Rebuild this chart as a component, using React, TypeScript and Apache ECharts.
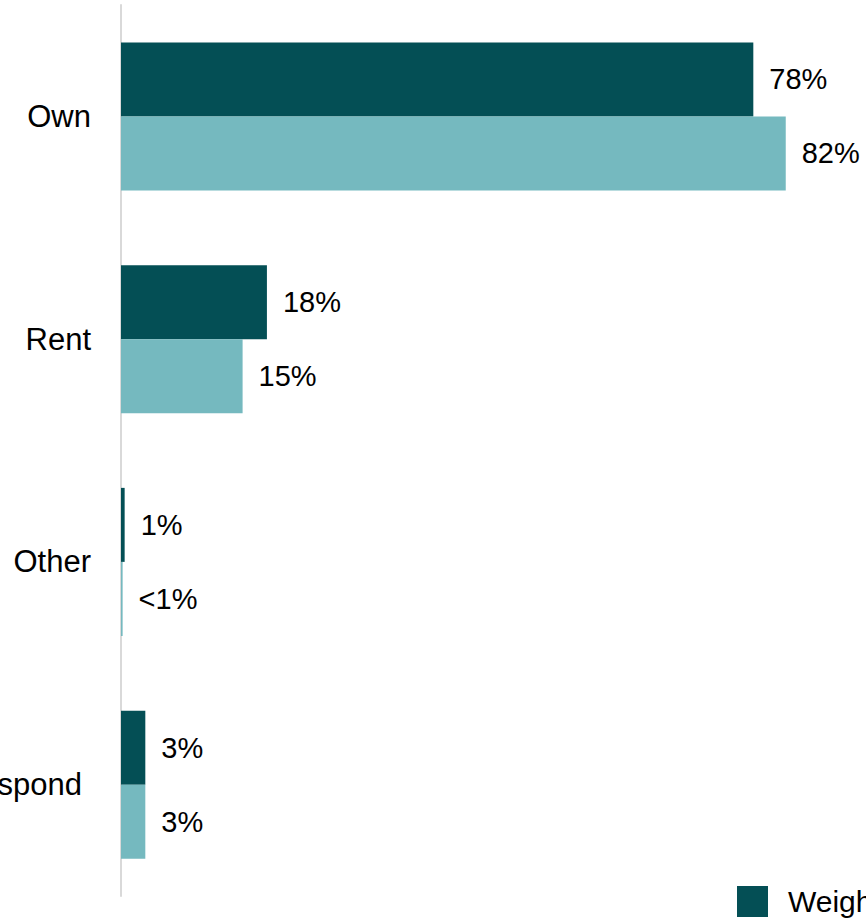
import React, { useEffect, useRef } from "react";
import * as echarts from "echarts";

const categories = ["Own", "Rent", "Other", "Did not respond"];
const weightedValues = [78, 18, 0.45, 3];
const weightedLabels = ["78%", "18%", "1%", "3%"];
const unweightedValues = [82, 15, 0.2, 3];
const unweightedLabels = ["82%", "15%", "<1%", "3%"];
const seriesNames = ["Weighted", "Unweighted"];

const FONT = "'Liberation Sans', Arial, sans-serif";
const DARK = "#044f55";
const LIGHT = "#75b9bf";

export default function App() {
  const ref = useRef<HTMLDivElement>(null);
  useEffect(() => {
    document.body.style.margin = "0";
    const chart = echarts.init(ref.current!, null, { renderer: "svg" });
    const labelStyle = {
      show: true,
      position: "right" as const,
      distance: 16,
      fontSize: 29,
      color: "#000",
      fontFamily: FONT,
    };
    chart.setOption({
      animation: false,
      textStyle: { fontFamily: FONT },
      grid: {
        left: 121,
        right: 0,
        top: 5,
        bottom: 27,
        containLabel: false,
        outerBoundsMode: "none",
      },
      legend: {
        left: 737,
        top: 886,
        padding: 0,
        itemWidth: 31,
        itemHeight: 31,
        itemGap: 40,
        icon: "rect",
        textStyle: { fontSize: 30, color: "#000", fontFamily: FONT, padding: [0, 0, 0, 15] },
        data: seriesNames,
      },
      xAxis: {
        type: "value",
        min: 0,
        max: 91.9,
        show: false,
        splitLine: { show: false },
      },
      yAxis: {
        type: "category",
        inverse: true,
        data: categories,
        axisLine: { show: true, lineStyle: { color: "#d9d9d9", width: 2 } },
        axisTick: { show: false },
        axisLabel: {
          margin: 30,
          fontSize: 31,
          color: "#000",
          fontFamily: FONT,
          formatter: (v: string) => (v === "Did not respond" ? "{p|" + v + "}" : v),
          rich: { p: { fontSize: 31, color: "#000", fontFamily: FONT, padding: [0, 9, 0, 0] } },
        },
      },
      series: [
        {
          name: seriesNames[0],
          type: "bar",
          data: weightedValues,
          barWidth: 74,
          barGap: "0%",
          itemStyle: { color: DARK },
          label: { ...labelStyle, formatter: (p: any) => weightedLabels[p.dataIndex] },
        },
        {
          name: seriesNames[1],
          type: "bar",
          data: unweightedValues,
          barWidth: 74,
          barGap: "0%",
          itemStyle: { color: LIGHT },
          label: { ...labelStyle, formatter: (p: any) => unweightedLabels[p.dataIndex] },
        },
      ],
    });
    return () => chart.dispose();
  }, []);
  return (
    <div
      ref={ref}
      style={{ position: "absolute", left: 0, top: 0, width: 866, height: 923, overflow: "hidden" }}
    />
  );
}
